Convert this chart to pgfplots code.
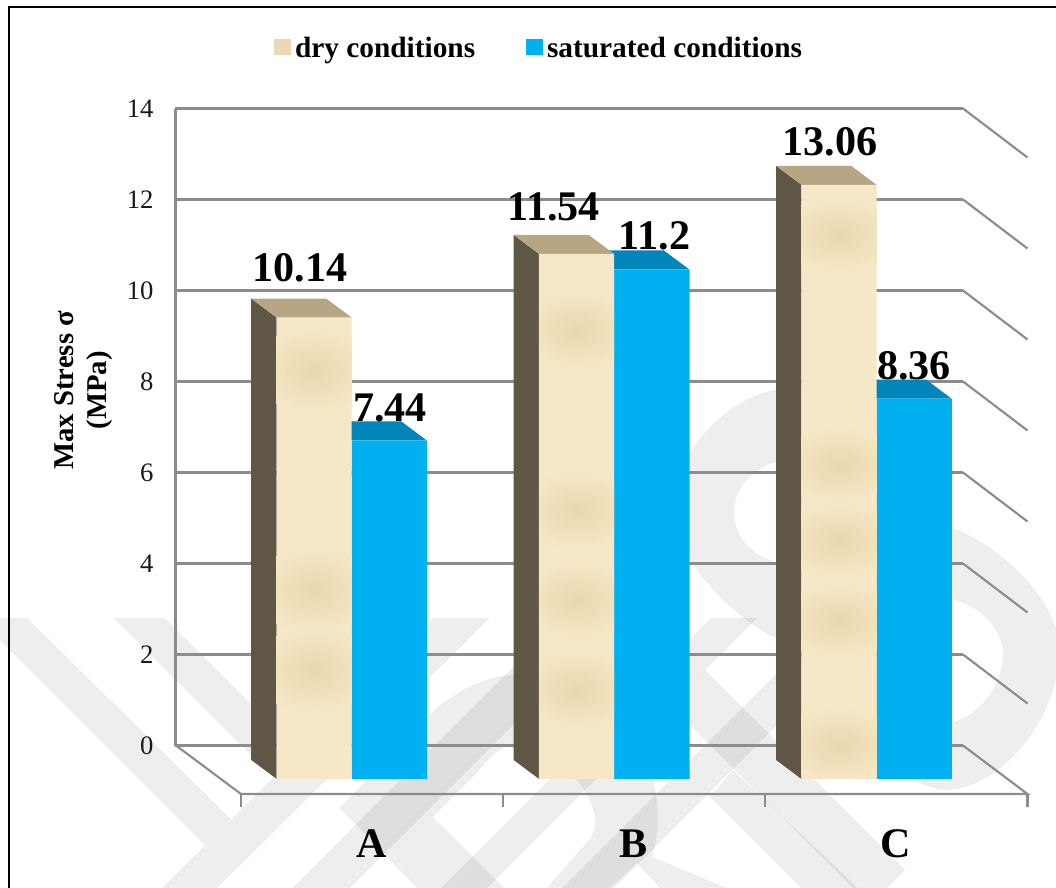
\documentclass[border=0pt]{standalone}
\usepackage{pgfplots}
\pgfplotsset{compat=1.18}
\usepackage{fontspec}
\setmainfont{Liberation Serif}
\definecolor{sand}{HTML}{F6E8C7}
\definecolor{sanddark}{HTML}{E9D7AE}
\definecolor{sandside}{HTML}{5F5646}
\definecolor{sandtop}{HTML}{B6A684}
\definecolor{sky}{HTML}{00B0F0}
\definecolor{skytop}{HTML}{0086BA}
\definecolor{wall}{HTML}{8C8C8C}
\definecolor{legsand}{HTML}{EBD8B4}
% shift from the back wall to the front of the bars
\pgfplotsset{front/.style={xshift=35.8pt,yshift=-25.1pt,forget plot,draw=none}}
\newcommand{\vallabel}[3]{\addplot[front,no marks,yshift=#3*0.75pt,nodes near coords={\pgfmathprintnumber[fixed,precision=2]{\pgfplotspointmeta}},
    every node near coord/.style={anchor=center,inner sep=0pt,font=\fontsize{31.6}{31.6}\selectfont\bfseries,text=black}] coordinates {(#1,#2)};}
\begin{document}
\begin{tikzpicture}[x=0.75pt,y=-0.75pt]
\path[use as bounding box] (0,0) rectangle (1056,888);
\coordinate (corner) at (175.5,794);
% watermark
\begin{scope}
\clip (0,0) rectangle (1056,888);
\begin{scope}[fill=black,fill opacity=0.065]
\fill (0,618) -- (27,618) -- (231,819) -- (205,845) -- (0,640) -- cycle;
\fill (114,618) -- (165,618) -- (299,752) -- (273,777) -- cycle;
\fill (434,618) -- (490,618) -- (217,888) -- (162,888) -- cycle;
\fill (292,888) -- (520,660) -- (578,660) -- (350,888) -- cycle;
\fill (711,618) -- (757,618) -- (487,888) -- (441,888) -- cycle;
\fill (830,620) -- (882,620) -- (614,888) -- (562,888) -- cycle;
\fill (705,670) -- (670,705) -- (870,905) -- (905,870) -- cycle;
\fill (733,770) -- (710,797) -- (801,888) -- (858,888) -- cycle;
% R: stem, bowl and leg
\fill (340,808) -- (427,717) .. controls (455,690) and (485,676) .. (520,674) -- (600,690)
  .. controls (635,720) and (660,780) .. (658,823) .. controls (657,835) and (655,848) .. (652,857)
  -- (727,888) -- (660,888) -- (637,863) -- (610,888) -- (547,888)
  -- (580,850) .. controls (592,838) and (596,830) .. (595,820) .. controls (593,790) and (560,750) .. (505,747)
  .. controls (495,752) and (485,762) .. (477,773) -- (433,817) -- (504,888) -- (417,888) -- cycle;
% big S with its two counters
\fill[even odd rule] (690,452) .. controls (715,415) and (750,390) .. (790,388) .. controls (860,395) and (900,500) .. (951,527)
  .. controls (1010,550) and (1065,610) .. (1060,660) .. controls (1050,730) and (1000,785) .. (949,790)
  .. controls (880,790) and (830,670) .. (775,638) .. controls (740,620) and (710,590) .. (690,560)
  .. controls (668,525) and (668,485) .. (690,452) -- cycle
  (776,462) .. controls (750,470) and (734,490) .. (734,513) .. controls (734,535) and (750,555) .. (776,562) -- (810,562) -- (810,462) -- cycle
  (951,599) .. controls (980,605) and (1003,630) .. (1003,654) .. controls (1003,685) and (980,715) .. (951,723) -- (930,723) -- (930,599) -- cycle;
\end{scope}
\end{scope}
% side walls and floor
\draw[wall,line width=1.6pt] (176,745.5) -- (241,794) -- (1027.5,794) -- (963,745.5);
\foreach \y in {654.5,563.5,472.5,381.5,290.5,199.5,108.5}
  \draw[wall,line width=1.6pt] (963,\y) -- (1027.5,\y+49);
\foreach \x in {241,503,765,1027.5}
  \draw[wall,line width=1.6pt] (\x,794) -- (\x,806.5);
% frame
\draw[black,line width=2.2pt] (9,888) -- (9,7) -- (1056,7);
\begin{axis}[
    at={(corner)},
    anchor=south west,
    scale only axis,
    width=590.6pt,
    height=514.1pt,
    xmin=-0.4897,
    xmax=2.5114,
    ymin=-1.066,
    ymax=14,
    clip=false,
    axis x line*=bottom,
    axis y line*=left,
    x axis line style={draw=none},
    y axis line style={draw=none},
    xtick={0,1,2},
    xticklabels={A,B,C},
    xtick style={draw=none},
    x tick label style={font=\fontsize{31.6}{31.6}\selectfont\bfseries,xshift=50.5pt,yshift=-23.5pt},
    ytick={0,2,...,14},
    ytick style={wall,line width=1.6pt},
    major tick length=4.5pt,
    ymajorgrids,
    grid style={wall,line width=1.6pt},
    /pgf/number format/assume math mode=true,
    y tick label style={font=\fontsize{20}{20}\selectfont,text=black!90,xshift=-13pt},
    every axis y label/.style={at={(axis description cs:-0.117,0.589)},rotate=90,anchor=center},
    ylabel style={align=center,font=\fontsize{21.5}{25}\selectfont\bfseries},
    ylabel={Max Stress σ\\(MPa)},
    legend style={at={(axis description cs:0.462,1.088)},anchor=center,draw=none,fill=none,
      legend columns=2,font=\fontsize{22}{22}\selectfont\bfseries,
      /tikz/every odd column/.style={column sep=1.5pt},
      /tikz/every even column/.style={column sep=36pt}},
    legend image code/.code={\fill[#1] (0pt,-4.5pt) rectangle (12pt,6.5pt);},
]
\addlegendimage{legsand}
\addlegendentry{dry conditions}
\addlegendimage{sky}
\addlegendentry{saturated conditions}
\addplot[forget plot,wall,line width=1.6pt] coordinates {(-0.4897,0) (-0.4897,14)};
% saturated bars: top faces, then fronts
\addplot[front,fill=skytop] coordinates {(0,7.44) (0.286,7.44) (0.189,7.858) (-0.097,7.858)} -- cycle;
\addplot[front,fill=skytop] coordinates {(1,11.2) (1.286,11.2) (1.189,11.618) (0.903,11.618)} -- cycle;
\addplot[front,fill=skytop] coordinates {(2,8.36) (2.286,8.36) (2.189,8.778) (1.903,8.778)} -- cycle;
\addplot[front,ybar,fill=sky,bar width=56.6pt,bar shift=28.3pt] coordinates {(0,7.44) (1,11.2) (2,8.36)};
% dry bars: side faces
\addplot[front,fill=sandside] coordinates {(-0.286,0) (-0.286,10.14) (-0.383,10.558) (-0.383,0.418)} -- cycle;
\addplot[front,fill=sandside] coordinates {(0.714,0) (0.714,11.54) (0.617,11.958) (0.617,0.418)} -- cycle;
\addplot[front,fill=sandside] coordinates {(1.714,0) (1.714,13.06) (1.617,13.478) (1.617,0.418)} -- cycle;
% dry bars: top faces
\addplot[front,fill=sandtop] coordinates {(-0.286,10.14) (0,10.14) (-0.097,10.558) (-0.383,10.558)} -- cycle;
\addplot[front,fill=sandtop] coordinates {(0.714,11.54) (1,11.54) (0.903,11.958) (0.617,11.958)} -- cycle;
\addplot[front,fill=sandtop] coordinates {(1.714,13.06) (2,13.06) (1.903,13.478) (1.617,13.478)} -- cycle;
% dry bars: fronts
\addplot[front,ybar,fill=sand,bar width=56.4pt,bar shift=-28.2pt] coordinates {(0,10.14) (1,11.54) (2,13.06)};
% value labels
\vallabel{-0.197}{10.14}{50}
\vallabel{0.77}{11.54}{47}
\vallabel{1.823}{13.06}{43}
\vallabel{0.146}{7.44}{33}
\vallabel{1.154}{11.2}{34}
\vallabel{2.143}{8.36}{33}
\end{axis}
% soft blotches of the sand texture, kept inside the bar fronts
\begin{scope}
\clip (276.5,330) rectangle (351.5,778);
\foreach \cy in {370,590,670}
  \shade[inner color=sanddark,outer color=sand] (314,\cy) ellipse (60 and 44);
\end{scope}
\begin{scope}
\clip (539.5,265) rectangle (614,778);
\foreach \cy in {330,510,600,690}
  \shade[inner color=sanddark,outer color=sand] (577,\cy) ellipse (60 and 40);
\end{scope}
\begin{scope}
\clip (801.5,195) rectangle (876.5,778);
\foreach \cy in {235,465,540,620,745}
  \shade[inner color=sanddark,outer color=sand] (839,\cy) ellipse (60 and 38);
\end{scope}
\end{tikzpicture}
\end{document}
